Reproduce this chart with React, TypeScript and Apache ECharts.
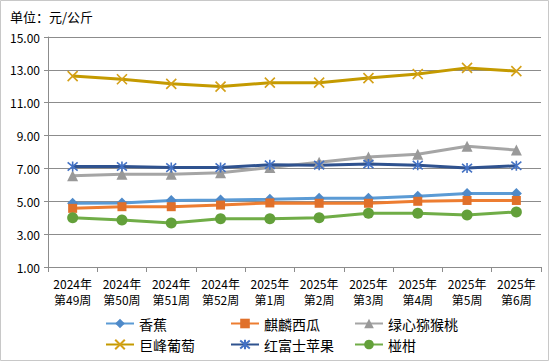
import React, { useEffect, useRef } from "react";
import * as echarts from "echarts";

const categories = [
  "2024年\n第49周", "2024年\n第50周", "2024年\n第51周", "2024年\n第52周", "2025年\n第1周",
  "2025年\n第2周", "2025年\n第3周", "2025年\n第4周", "2025年\n第5周", "2025年\n第6周",
];
const banana = [4.88, 4.9, 5.05, 5.08, 5.12, 5.18, 5.18, 5.3, 5.48, 5.48];
const watermelon = [4.57, 4.67, 4.67, 4.77, 4.9, 4.88, 4.88, 5.0, 5.05, 5.05];
const kiwi = [6.55, 6.64, 6.64, 6.74, 7.05, 7.37, 7.7, 7.86, 8.35, 8.12];
const grape = [12.62, 12.43, 12.15, 11.98, 12.22, 12.22, 12.5, 12.75, 13.12, 12.92];
const apple = [7.12, 7.12, 7.05, 7.05, 7.22, 7.2, 7.27, 7.2, 7.02, 7.16];
const tangerine = [4.0, 3.86, 3.68, 3.94, 3.94, 4.0, 4.27, 4.27, 4.17, 4.35];
const yTicks = { min: 1, max: 15, interval: 2 };

const FONT = "'Noto Sans CJK SC', 'Noto Sans', sans-serif";

const X_SYMBOL = "path://M0,0L10,10M10,0L0,10";
const STAR_SYMBOL = "path://M0,0L10,10M10,0L0,10M5,-1L5,11";

export default function App() {
  const ref = useRef<HTMLDivElement>(null);
  useEffect(() => {
    if (!ref.current) return;
    const chart = echarts.init(ref.current, null, { renderer: "svg" });
    const mk = (name: string, data: number[], lineColor: string, markColor: string, symbol: string, size: number, stroke = false) => ({
      name,
      type: "line",
      data,
      symbol,
      symbolSize: size,
      showAllSymbol: true,
      lineStyle: { color: lineColor, width: 3 },
      itemStyle: stroke
        ? { color: markColor, borderColor: markColor, borderWidth: 1.6 }
        : { color: markColor, borderColor: markColor, borderWidth: 0 },
      emphasis: { disabled: true },
      z: 3,
    });
    const legendBase = {
      orient: "vertical",
      top: 310,
      itemWidth: 28,
      itemHeight: 12,
      itemGap: 4,
      textStyle: { fontFamily: FONT, fontSize: 14, color: "#000", lineHeight: 17 },
    };
    chart.setOption({
      animation: false,
      graphic: [
        {
          type: "rect",
          shape: { x: 0.5, y: 0.5, width: 548, height: 360 },
          style: { fill: "none", stroke: "#c8c8c8", lineWidth: 1 },
          silent: true,
        },
        {
          type: "text",
          left: 10,
          top: 10,
          style: { text: "单位：元/公斤", font: `13px ${FONT}`, fill: "#000" },
        },
      ],
      grid: { left: 48, right: 9, top: 37, bottom: 95 },
      legend: [
        { ...legendBase, left: 100, data: ["香蕉", "巨峰葡萄"] },
        { ...legendBase, left: 225, data: ["麒麟西瓜", "红富士苹果"] },
        { ...legendBase, left: 349, data: ["绿心猕猴桃", "椪柑"] },
      ],
      xAxis: {
        type: "category",
        data: categories,
        boundaryGap: true,
        axisLine: { lineStyle: { color: "#8c8c8c", width: 1 } },
        axisTick: { show: true, length: 5, lineStyle: { color: "#8c8c8c" } },
        axisLabel: {
          interval: 0,
          margin: 8,
          fontFamily: FONT,
          fontSize: 12,
          lineHeight: 16,
          color: "#000",
        },
      },
      yAxis: {
        type: "value",
        min: yTicks.min,
        max: yTicks.max,
        interval: yTicks.interval,
        axisLine: { show: true, lineStyle: { color: "#8c8c8c", width: 1 } },
        axisTick: { show: true, length: 4, lineStyle: { color: "#8c8c8c" } },
        splitLine: { lineStyle: { color: "#8c8c8c", width: 1 } },
        axisLabel: {
          margin: 8,
          fontFamily: FONT,
          fontSize: 12,
          color: "#000",
          formatter: (v: number) => v.toFixed(2),
        },
      },
      series: [
        mk("香蕉", banana, "#5B9BD5", "#4F8AC9", "diamond", 11),
        mk("麒麟西瓜", watermelon, "#ED7D31", "#E0702A", "rect", 9),
        mk("绿心猕猴桃", kiwi, "#A5A5A5", "#999999", "triangle", 11),
        mk("巨峰葡萄", grape, "#C49A00", "#D4A017", X_SYMBOL, 10, true),
        mk("红富士苹果", apple, "#2F528F", "#4472C4", STAR_SYMBOL, 10, true),
        mk("椪柑", tangerine, "#70AD47", "#63A03A", "circle", 11),
      ],
    });
    return () => chart.dispose();
  }, []);
  return (
    <div
      ref={ref}
      style={{ position: "absolute", left: 0, top: 0, width: 550, height: 362, background: "#fff" }}
    />
  );
}
